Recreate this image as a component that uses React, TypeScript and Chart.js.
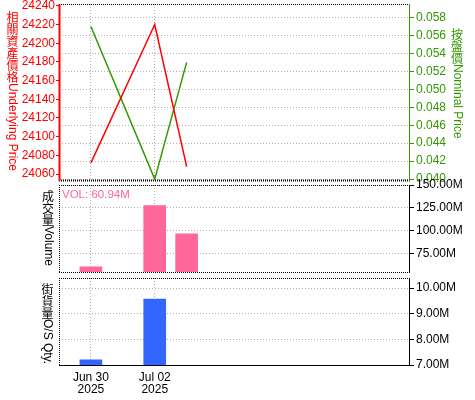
import React, { useEffect, useRef } from "react";
import { Chart, registerables } from "chart.js";

Chart.register(...registerables);

// ---- data ----
const DATES = ["2025-06-30", "2025-07-02", "2025-07-03"];
const UNDERLYING = [24072, 24220, 24068];
const NOMINAL = [0.057, 0.04, 0.053];
const VOLUME = [60.94e6, 127.5e6, 96.9e6];
const OS_DATES = ["2025-06-30", "2025-07-02"];
const OS_QTY = [7.2e6, 9.57e6];

const X_START = "2025-06-29";
const X_END = "2025-07-10";
const X_TICKS = ["2025-06-30", "2025-07-02"];
const X_TICK_LABELS = [
  ["Jun 30", "2025"],
  ["Jul 02", "2025"],
];
const PRICE_TICKS = [24060, 24080, 24100, 24120, 24140, 24160, 24180, 24200, 24220, 24240];
const NOMINAL_TICKS = [0.04, 0.042, 0.044, 0.046, 0.048, 0.05, 0.052, 0.054, 0.056, 0.058];
const VOL_TICKS = [75e6, 100e6, 125e6, 150e6];
const OS_TICKS = [7e6, 8e6, 9e6, 10e6];

const FONT = '"Liberation Sans", Arial, sans-serif';
const CJK_FONT = '"Noto Sans CJK TC", "Noto Sans CJK SC", sans-serif';
const RED = "#ff0000";
const GREEN = "#339900";
const PINK = "#ff6699";
const BLUE = "#3366ff";
const GRID = "#b0b0b0";

const DAY = 86400000;
const dayOf = (d: string) => (Date.parse(d) - Date.parse(X_START)) / DAY;

const fmtM = (v: number) => (v / 1e6).toFixed(2) + "M";

type Edge = { color: string; width: number; dash: number[] };
type Edges = { top?: Edge; bottom?: Edge; left?: Edge; right?: Edge };
type Title = { text: string; x: number; y: number; color: string; size: number };

const dotted = (w = 1): Edge => ({ color: "#000", width: w, dash: [1, 1] });
const solid = (color: string, w = 1): Edge => ({ color, width: w, dash: [] });

// Vertical caption: CJK characters stay upright, Latin text is turned clockwise.
function drawVerticalText(ctx: CanvasRenderingContext2D, t: Title) {
  ctx.save();
  ctx.fillStyle = t.color;
  ctx.textAlign = "center";
  ctx.textBaseline = "middle";
  const chars = Array.from(t.text);
  let cy = t.y;
  let i = 0;
  ctx.font = `${t.size}px ${CJK_FONT}`;
  while (i < chars.length && chars[i].charCodeAt(0) > 0x2e80) {
    ctx.fillText(chars[i], t.x, cy + t.size / 2);
    cy += t.size;
    i++;
  }
  const rest = chars.slice(i).join("");
  if (rest) {
    ctx.font = `${t.size}px ${FONT}`;
    ctx.translate(t.x, cy);
    ctx.rotate(Math.PI / 2);
    ctx.textAlign = "left";
    ctx.fillText(rest, 0, 0);
  }
  ctx.restore();
}

function panelPlugin(edges: Edges, titles: Title[], extra?: (ctx: CanvasRenderingContext2D, chart: Chart) => void) {
  return {
    id: "panel",
    afterDatasetsDraw(chart: Chart) {
      const { ctx, chartArea: a } = chart;
      const line = (e: Edge | undefined, x1: number, y1: number, x2: number, y2: number) => {
        if (!e) return;
        ctx.save();
        ctx.strokeStyle = e.color;
        ctx.lineWidth = e.width;
        ctx.setLineDash(e.dash);
        ctx.beginPath();
        ctx.moveTo(x1, y1);
        ctx.lineTo(x2, y2);
        ctx.stroke();
        ctx.restore();
      };
      line(edges.top, a.left, a.top + 0.5, a.right, a.top + 0.5);
      line(edges.bottom, a.left, a.bottom + 0.5, a.right, a.bottom + 0.5);
      line(edges.left, a.left + 0.5, a.top, a.left + 0.5, a.bottom + 1);
      line(edges.right, a.right - 0.5, a.top, a.right - 0.5, a.bottom + 1);
      titles.forEach((t) => drawVerticalText(ctx, t));
      if (extra) extra(ctx, chart);
    },
  };
}

const setTicks = (values: number[]) => (s: any) => {
  s.ticks = values.map((v) => ({ value: v }));
};

function xScale(showLabels: boolean, height: number) {
  return {
    type: "linear" as const,
    offset: false,
    min: dayOf(X_START),
    max: dayOf(X_END),
    afterBuildTicks: setTicks(X_TICKS.map(dayOf)),
    afterFit: (s: any) => {
      s.height = height;
      s.paddingLeft = 0;
      s.paddingRight = 0;
    },
    ticks: {
      display: showLabels,
      autoSkip: false,
      maxRotation: 0,
      padding: 7,
      color: "#000",
      font: { family: FONT, size: 12, lineHeight: 1 },
      callback: (_v: any, i: number) => X_TICK_LABELS[i],
    },
    grid: { color: GRID, drawTicks: false, offset: false },
    border: { display: false, dash: [1, 2] },
  };
}

function yFit(width: number) {
  return (s: any) => {
    s.width = width;
    s.paddingTop = 0;
    s.paddingBottom = 0;
  };
}

function rightScale(min: number, max: number, ticks: number[], color: string, fmt: (v: number) => string) {
  return {
    position: "right" as const,
    min,
    max,
    afterBuildTicks: setTicks(ticks),
    afterFit: yFit(65),
    ticks: {
      color,
      padding: 2,
      font: { family: FONT, size: 12 },
      callback: (v: any) => fmt(Number(v)),
    },
    grid: { color: GRID, tickColor: color, tickLength: 4 },
    border: { display: false, dash: [1, 2] },
  };
}

const base = {
  animation: false as const,
  responsive: false,
  events: [] as any[],
  plugins: { legend: { display: false }, tooltip: { enabled: false } },
};

function usePanel(build: () => any) {
  const ref = useRef<HTMLCanvasElement | null>(null);
  useEffect(() => {
    if (!ref.current) return;
    const chart = new Chart(ref.current, build());
    return () => chart.destroy();
  }, []);
  return ref;
}

export default function App() {
  // price panel: underlying (left) and nominal price (right)
  const priceRef = usePanel(() => ({
    type: "line",
    data: {
      datasets: [
        {
          data: DATES.map((d, i) => ({ x: dayOf(d), y: UNDERLYING[i] })),
          borderColor: RED,
          borderWidth: 1.5,
          pointRadius: 0,
          yAxisID: "y",
        },
        {
          data: DATES.map((d, i) => ({ x: dayOf(d), y: NOMINAL[i] })),
          borderColor: GREEN,
          borderWidth: 1.5,
          pointRadius: 0,
          yAxisID: "y1",
        },
      ],
    },
    options: {
      ...base,
      layout: { padding: { top: 4, bottom: 12 } },
      scales: {
        x: xScale(false, 0),
        y: {
          position: "left",
          min: 24053.6,
          max: 24242,
          afterBuildTicks: setTicks(PRICE_TICKS),
          afterFit: yFit(59),
          ticks: {
            color: RED,
            padding: 1,
            font: { family: FONT, size: 12 },
            callback: (v: any) => String(v),
          },
          grid: { drawOnChartArea: false, tickColor: RED, tickLength: 3 },
          border: { display: false },
        },
        y1: rightScale(0.0399, 0.0595, NOMINAL_TICKS, GREEN, (v) => v.toFixed(3)),
      },
    },
    plugins: [
      panelPlugin(
        { top: dotted(), bottom: dotted(2), left: solid(RED, 2), right: solid(GREEN) },
        [
          { text: "相關資產價格Underlying Price", x: 12.5, y: 11, color: RED, size: 12 },
          { text: "按盤價Nominal Price", x: 457, y: 28, color: GREEN, size: 12 },
        ]
      ),
    ],
  }));

  // turnover panel
  const volRef = usePanel(() => ({
    type: "bar",
    data: {
      datasets: [
        {
          data: DATES.map((d, i) => ({ x: dayOf(d), y: VOLUME[i] })),
          backgroundColor: PINK,
          barThickness: 22,
        },
      ],
    },
    options: {
      ...base,
      layout: { padding: { top: 13, bottom: 10, left: 59 } },
      scales: {
        x: xScale(false, 0),
        y: rightScale(55.3e6, 150e6, VOL_TICKS, "#000", fmtM),
      },
    },
    plugins: [
      panelPlugin(
        { top: dotted(), bottom: dotted(), left: dotted(), right: solid("#000") },
        [{ text: "成交量Volume", x: 48, y: 18, color: "#000", size: 12 }],
        (ctx, chart) => {
          ctx.save();
          ctx.fillStyle = PINK;
          ctx.font = `11.5px ${FONT}`;
          ctx.textAlign = "left";
          ctx.textBaseline = "middle";
          ctx.fillText("VOL: " + fmtM(VOLUME[0]), chart.chartArea.left + 3, chart.chartArea.top + 10);
          ctx.restore();
        }
      ),
    ],
  }));

  // outstanding quantity panel
  const osRef = usePanel(() => ({
    type: "bar",
    data: {
      datasets: [
        {
          data: OS_DATES.map((d, i) => ({ x: dayOf(d), y: OS_QTY[i] })),
          backgroundColor: BLUE,
          barThickness: 22,
        },
      ],
    },
    options: {
      ...base,
      layout: { padding: { top: 10, left: 59 } },
      scales: {
        x: xScale(true, 35),
        y: rightScale(7e6, 10.39e6, OS_TICKS, "#000", fmtM),
      },
    },
    plugins: [
      panelPlugin(
        { top: dotted(), bottom: solid("#000"), left: dotted(), right: solid("#000") },
        [{ text: "街貨量O/S Qty.", x: 47.5, y: 15, color: "#000", size: 12 }]
      ),
    ],
  }));

  const cv = (top: number, h: number): React.CSSProperties => ({
    position: "absolute",
    left: 0,
    top,
    width: 475,
    height: h,
  });

  return (
    <div style={{ position: "fixed", left: 0, top: 0, width: 475, height: 400, background: "#fff" }}>
      <canvas ref={priceRef} width={475} height={192} style={cv(0, 192)} />
      <canvas ref={volRef} width={475} height={110} style={cv(172, 110)} />
      <canvas ref={osRef} width={475} height={132} style={cv(268, 132)} />
    </div>
  );
}
